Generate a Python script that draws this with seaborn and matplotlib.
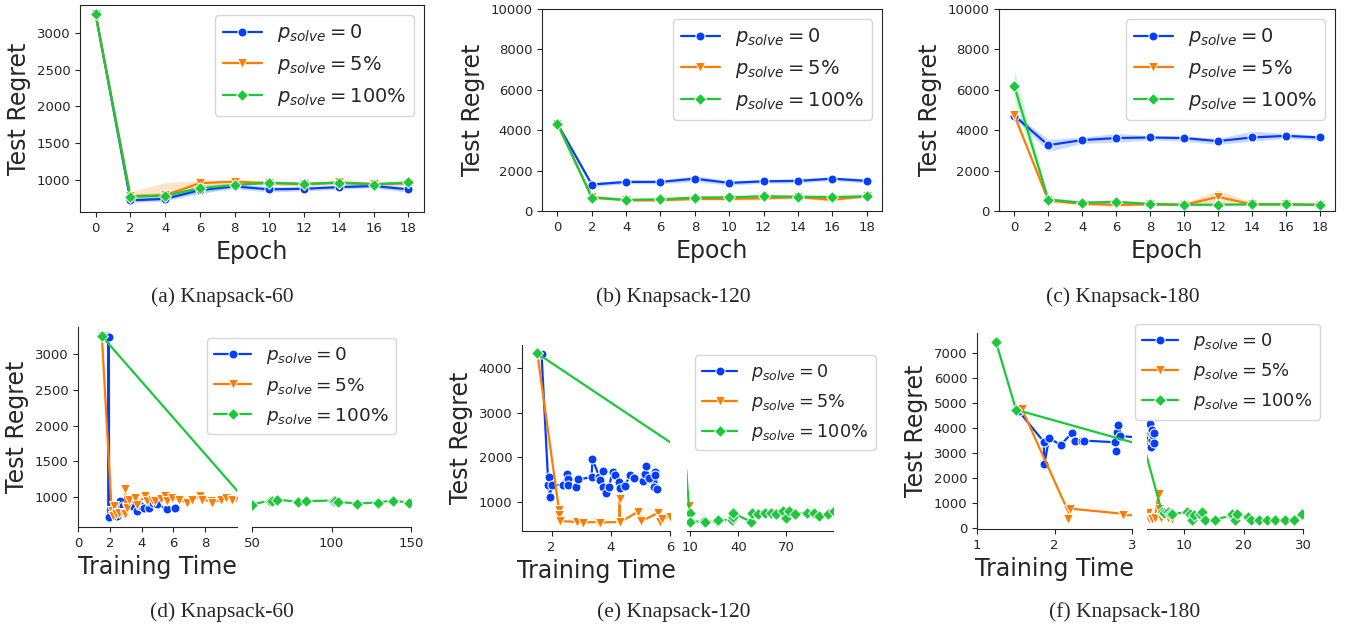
import matplotlib
matplotlib.use('Agg')
import matplotlib.pyplot as plt
from matplotlib.lines import Line2D
import pandas as pd
import seaborn as sns

# ---- data ----
labels = [r'$p_{solve} = 0$', r'$p_{solve} = 5\%$', r'$p_{solve} = 100\%$']
epochs = [0, 2, 4, 6, 8, 10, 12, 14, 16, 18]

# (a) Knapsack-60, mean and band per epoch
a_p0 = [3250, 720, 740, 860, 910, 870, 878, 900, 915, 870]
a_p0_lo = [3250, 690, 710, 820, 880, 835, 850, 870, 890, 830]
a_p0_hi = [3250, 750, 780, 900, 940, 905, 905, 930, 940, 905]
a_p5 = [3250, 780, 790, 955, 975, 955, 940, 965, 945, 950]
a_p5_lo = [3250, 720, 740, 910, 945, 930, 915, 940, 920, 925]
a_p5_hi = [3250, 840, 960, 990, 1000, 985, 965, 990, 965, 975]
a_p100 = [3250, 770, 785, 885, 930, 960, 945, 960, 935, 965]
a_p100_lo = [3250, 740, 750, 810, 900, 935, 920, 935, 910, 940]
a_p100_hi = [3250, 800, 830, 930, 960, 985, 970, 985, 960, 990]

# (b) Knapsack-120
b_p0 = [4320, 1310, 1440, 1440, 1600, 1390, 1470, 1490, 1600, 1490]
b_p0_lo = [4250, 1200, 1350, 1350, 1450, 1280, 1370, 1390, 1500, 1380]
b_p0_hi = [4400, 1420, 1540, 1540, 1750, 1500, 1570, 1590, 1700, 1600]
b_p5 = [4320, 700, 530, 530, 600, 600, 630, 680, 560, 730]
b_p5_lo = [4250, 620, 480, 480, 520, 530, 560, 610, 500, 660]
b_p5_hi = [4400, 780, 590, 590, 780, 700, 700, 750, 640, 800]
b_p100 = [4320, 660, 550, 580, 660, 680, 730, 710, 690, 730]
b_p100_lo = [4250, 600, 500, 520, 600, 620, 670, 650, 630, 670]
b_p100_hi = [4400, 720, 600, 640, 720, 740, 790, 770, 750, 790]

# (c) Knapsack-180
c_p0 = [4720, 3260, 3510, 3610, 3640, 3610, 3460, 3640, 3720, 3640]
c_p0_lo = [4600, 2950, 3350, 3400, 3520, 3450, 3300, 3450, 3600, 3500]
c_p0_hi = [4850, 3550, 3650, 3850, 3720, 3720, 3600, 3950, 3850, 3750]
c_p5 = [4750, 530, 360, 300, 330, 300, 700, 330, 330, 300]
c_p5_lo = [4650, 400, 280, 250, 260, 250, 350, 260, 260, 250]
c_p5_hi = [4850, 700, 450, 380, 420, 380, 1050, 420, 420, 380]
c_p100 = [6190, 560, 410, 450, 350, 310, 310, 330, 330, 310]
c_p100_lo = [5500, 450, 330, 350, 290, 260, 260, 270, 270, 260]
c_p100_hi = [6950, 680, 500, 560, 420, 370, 370, 400, 400, 370]

# (d) Knapsack-60, regret vs training time
d_t_p0 = [1.91, 1.93, 1.94, 1.96, 2.44, 2.65, 2.80, 3.07, 3.18, 3.40, 3.70, 3.95, 4.13, 4.44, 4.70, 4.97, 5.60, 6.13]
d_r_p0 = [3250, 710, 3240, 720, 730, 945, 880, 900, 945, 870, 800, 880, 850, 850, 920, 900, 830, 850]
d_t_p5 = [1.50, 2.12, 2.23, 2.29, 2.40, 2.55, 2.96, 2.97, 2.98, 3.07, 3.18, 3.60, 3.70, 4.23, 4.34, 4.65,
          4.86, 5.20, 5.50, 5.60, 5.90, 6.34, 6.86, 7.20, 7.70, 7.80, 8.34, 8.44, 8.97, 9.30, 9.70, 10.2]
d_r_p5 = [3250, 800, 730, 873, 760, 780, 730, 1108, 760, 850, 967, 990, 897, 1014, 944, 967,
          944, 980, 1014, 944, 990, 967, 920, 967, 1014, 967, 944, 920, 967, 990, 967, 944]
d_t_p100 = [1.50, 10.8, 50.0, 61.3, 62.4, 65.9, 78.1, 79.1, 84.0, 101.2, 102.2, 103.9, 115.8, 129.0, 138.5, 147.9, 148.7]
d_r_p100 = [3250, 890, 897, 953, 953, 967, 934, 934, 944, 953, 953, 934, 911, 925, 953, 925, 925]

# (e) Knapsack-120
e_t_p0 = [1.66, 1.89, 1.92, 1.94, 2.00, 2.39, 2.53, 2.54, 2.55, 2.82, 2.90, 3.35, 3.38, 3.61, 3.65, 3.72, 3.73,
          3.83, 3.94, 4.06, 4.13, 4.28, 4.30, 4.47, 4.66, 4.78, 5.09, 5.15, 5.18, 5.29, 5.45, 5.48, 5.51, 5.57]
e_r_p0 = [4320, 1375, 1548, 1098, 1375, 1375, 1623, 1503, 1375, 1338, 1503, 1548, 1960, 1563, 1488, 1698, 1338,
          1188, 1338, 1675, 1600, 1450, 1300, 1360, 1600, 1525, 1473, 1623, 1803, 1525, 1338, 1675, 1600, 1285]
e_t_p5 = [1.52, 2.25, 2.26, 2.27, 2.87, 3.07, 3.57, 3.63, 4.29, 4.30, 4.31, 4.92, 5.03, 5.60, 5.65, 5.74, 5.99, 9.3]
e_r_p5 = [4320, 812, 700, 565, 550, 535, 550, 535, 550, 1053, 545, 775, 565, 752, 550, 625, 663, 900]
e_t_p100 = [1.52, 9.6, 10.0, 18.3, 19.3, 26.6, 27.6, 35.9, 36.5, 36.9, 47.9, 48.7, 52.0, 56.6, 60.3, 63.2,
            68.0, 69.4, 71.5, 75.2, 82.5, 87.2, 90.1, 95.9, 99.6]
e_r_p100 = [4323, 740, 553, 560, 553, 560, 590, 590, 650, 740, 553, 755, 725, 740, 755, 725,
            785, 635, 785, 725, 755, 740, 680, 725, 785]

# (f) Knapsack-180
f_t_p0 = [1.54, 1.86, 1.87, 1.93, 2.08, 2.23, 2.25, 2.27, 2.35, 2.38, 2.78, 2.79, 2.80, 2.82, 2.84,
          4.0, 4.1, 4.2, 4.3, 4.4, 4.5, 4.6, 4.7, 4.8, 4.9]
f_r_p0 = [4660, 3453, 2557, 3587, 3319, 3814, 3493, 3493, 3493, 3493, 3426, 3078, 3854, 4096, 3680,
          3350, 3600, 4150, 3250, 3800, 3500, 3900, 3700, 3400, 3800]
f_t_p5 = [1.58, 2.17, 2.18, 2.20, 2.87, 2.89, 3.9, 4.0, 4.3, 4.6, 5.0, 5.67, 5.70, 6.0, 6.9, 7.3, 7.9]
f_r_p5 = [4750, 711, 377, 778, 577, 510, 600, 380, 420, 360, 400, 1350, 750, 420, 650, 420, 380]
f_t_p100 = [1.245, 1.503, 6.2, 6.6, 7.2, 7.5, 7.9, 10.45, 10.9, 11.3, 11.6, 12.6, 12.9, 13.5, 15.1,
            17.8, 18.0, 18.5, 18.9, 20.8, 21.2, 22.5, 24.0, 25.3, 26.9, 28.4, 29.8]
f_r_p100 = [7430, 4725, 650, 600, 640, 580, 560, 640, 580, 320, 510, 580, 640, 320, 320,
            510, 580, 320, 580, 445, 320, 320, 320, 320, 320, 320, 580]

# ---- style ----
sns.set_style('ticks')
plt.rcParams['font.family'] = ['DejaVu Sans']
palette = sns.color_palette('bright', 3)
markers = ['o', 'v', 'D']
msize = [6.5, 6.5, 6]

W, H = 1348, 633
fig = plt.figure(figsize=(W / 100, H / 100), dpi=100)


def box(x0, y0, x1, y1):
    # pixel box -> figure fraction
    return [x0 / W, 1 - y1 / H, (x1 - x0) / W, (y1 - y0) / H]


def handles():
    return [Line2D([], [], color=palette[i], marker=markers[i], markersize=msize[i],
                   markeredgecolor='w', markeredgewidth=0.75, lw=1.6) for i in range(3)]


def long_df(xs, ys):
    rows = []
    for lab, x, y in zip(labels, xs, ys):
        rows += [(a, b, lab) for a, b in zip(x, y)]
    return pd.DataFrame(rows, columns=['x', 'y', 'p'])


def draw(ax, df):
    sns.lineplot(data=df, x='x', y='y', hue='p', style='p', hue_order=labels, style_order=labels,
                 markers=markers, dashes=False, palette=palette, estimator=None, sort=False,
                 errorbar=None, legend=False, lw=1.6, markersize=6.5, ax=ax)


# ---- top row: regret per epoch with bands ----
top = [
    (box(80, 5, 424, 212), [a_p0, a_p5, a_p100], [a_p0_lo, a_p5_lo, a_p100_lo], [a_p0_hi, a_p5_hi, a_p100_hi], None),
    (box(542, 9, 882, 211), [b_p0, b_p5, b_p100], [b_p0_lo, b_p5_lo, b_p100_lo], [b_p0_hi, b_p5_hi, b_p100_hi], (0, 10000)),
    (box(999, 9, 1335, 211), [c_p0, c_p5, c_p100], [c_p0_lo, c_p5_lo, c_p100_lo], [c_p0_hi, c_p5_hi, c_p100_hi], (0, 10000)),
]
for rect, means, los, his, ylim in top:
    ax = fig.add_axes(rect)
    for i in range(3):
        ax.fill_between(epochs, los[i], his[i], color=palette[i], alpha=0.2, lw=0)
    draw(ax, long_df([epochs] * 3, means))
    ax.set_xticks(epochs)
    if ylim:
        ax.set_ylim(*ylim)
    ax.set_xlabel('Epoch', fontsize=17)
    ax.set_ylabel('Test Regret', fontsize=17)
    ax.tick_params(labelsize=9.5)
    ax.legend(handles(), labels, loc='upper right', fontsize=14)

# ---- bottom row: regret vs training time, broken x axis ----
bottom = [
    (box(78, 327, 237, 527), box(252, 327, 411, 527),
     [d_t_p0, d_t_p5, d_t_p100], [d_r_p0, d_r_p5, d_r_p100],
     (0, 10), [0, 2, 4, 6, 8], (50, 150), [50, 100, 150], None, (207, 338), 13.3),
    (box(522, 345, 670, 531), box(687, 345, 833, 531),
     [e_t_p0, e_t_p5, e_t_p100], [e_r_p0, e_r_p5, e_r_p100],
     (1, 6), [2, 4, 6], (8, 99), [10, 40, 70], None, (695, 355), 12.7),
    (box(977, 333, 1132, 529), box(1147, 333, 1303, 529),
     [f_t_p0, f_t_p5, f_t_p100], [f_r_p0, f_r_p5, f_r_p100],
     (1, 3), [1, 2, 3], (3.7, 30), [10, 20, 30], list(range(0, 8000, 1000)), (1135, 324), 13),
]
for rect_l, rect_r, ts, rs, xl, xt_l, xr, xt_r, yt, leg_xy, leg_fs in bottom:
    df = long_df(ts, rs)
    ax_l = fig.add_axes(rect_l)
    ax_r = fig.add_axes(rect_r, sharey=ax_l)
    for ax in (ax_l, ax_r):
        draw(ax, df)
        ax.set_xlabel('')
        ax.set_ylabel('')
        ax.tick_params(labelsize=9.5)
        sns.despine(ax=ax)
    ax_l.set_xlim(*xl)
    ax_l.set_xticks(xt_l)
    ax_r.set_xlim(*xr)
    ax_r.set_xticks(xt_r)
    if yt:
        ax_l.set_yticks(yt)
    ax_r.spines['left'].set_visible(False)
    ax_r.tick_params(left=False, labelleft=False)
    ax_l.set_xlabel('Training Time', fontsize=17)
    ax_l.set_ylabel('Test Regret', fontsize=17)
    fig.legend(handles(), labels, loc='upper left', fontsize=leg_fs, borderaxespad=0,
               bbox_to_anchor=(leg_xy[0] / W, 1 - leg_xy[1] / H))

# ---- captions ----
caps = [('(a) Knapsack-60', 222, 297), ('(b) Knapsack-120', 673, 297), ('(c) Knapsack-180', 1123, 297),
        ('(d) Knapsack-60', 222, 612), ('(e) Knapsack-120', 674, 612), ('(f) Knapsack-180', 1125, 612)]
for txt, cx, cy in caps:
    fig.text(cx / W, 1 - cy / H, txt, ha='center', va='center', family='Liberation Serif', fontsize=15.5)

fig.savefig('out.png', dpi=100)
